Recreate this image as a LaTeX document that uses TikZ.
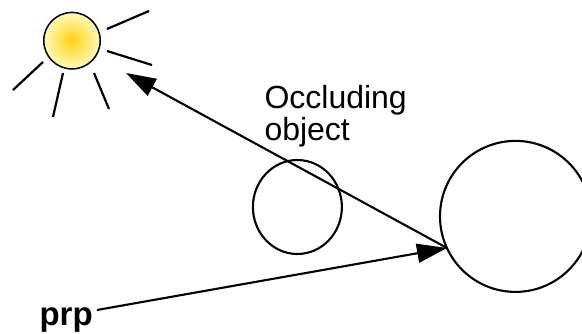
\documentclass[tikz,border=0pt]{standalone}
\usepackage{fontspec}
\setmainfont{Liberation Sans}
\usetikzlibrary{arrows.meta,shapes.geometric}
\definecolor{suncore}{RGB}{255,210,20}
\definecolor{sunrim}{RGB}{255,250,185}
\tikzset{
  ray/.style={draw=black,line width=2.2pt},
  outline/.style={draw=black,line width=2.1pt,inner sep=0pt,outer sep=0pt},
  conn/.style={draw=black,line width=2.1pt,-{Triangle[length=30pt,width=19pt]}},
  lbl/.style={inner sep=0pt,outer sep=0pt,anchor=base west,font=\fontsize{32}{32}\selectfont},
}
\begin{document}
\begin{tikzpicture}[x=1pt,y=-1pt]
\useasboundingbox (0,0) rectangle (582,334);
\clip (0,0) rectangle (582,334);
\fill[white] (0,0) rectangle (582,334);
\node[outline,circle,minimum size=56.5pt,inner color=suncore,outer color=sunrim,draw=black,line width=1.5pt] (sun) at (72,40.7) {};
\draw[ray] (107,29) -- (149,11);
\draw[ray] (107,51) -- (152,65);
\draw[ray] (43,62) -- (13,90);
\draw[ray] (63,73) -- (53,117);
\draw[ray] (94,73) -- (109,109);
\node[outline,circle,minimum size=151pt] (big) at (515.5,216.4) {};
\node[outline,ellipse,minimum width=89pt,minimum height=94pt] (small) at (297.4,207) {};
\coordinate (hit) at (447,248);
\coordinate (lighttip) at (126,73);
\coordinate (prpend) at (97,310);
\draw[conn] (hit) -- (lighttip);
\draw[conn] (prpend) -- (hit);
\node[lbl] (occ1) at (264.5,108.5) {Occluding};
\node[lbl] (occ2) at (264.5,141) {object};
\node[lbl,font=\fontsize{33}{33}\selectfont\bfseries] (prp) at (39.5,326) {prp};
\end{tikzpicture}
\end{document}
